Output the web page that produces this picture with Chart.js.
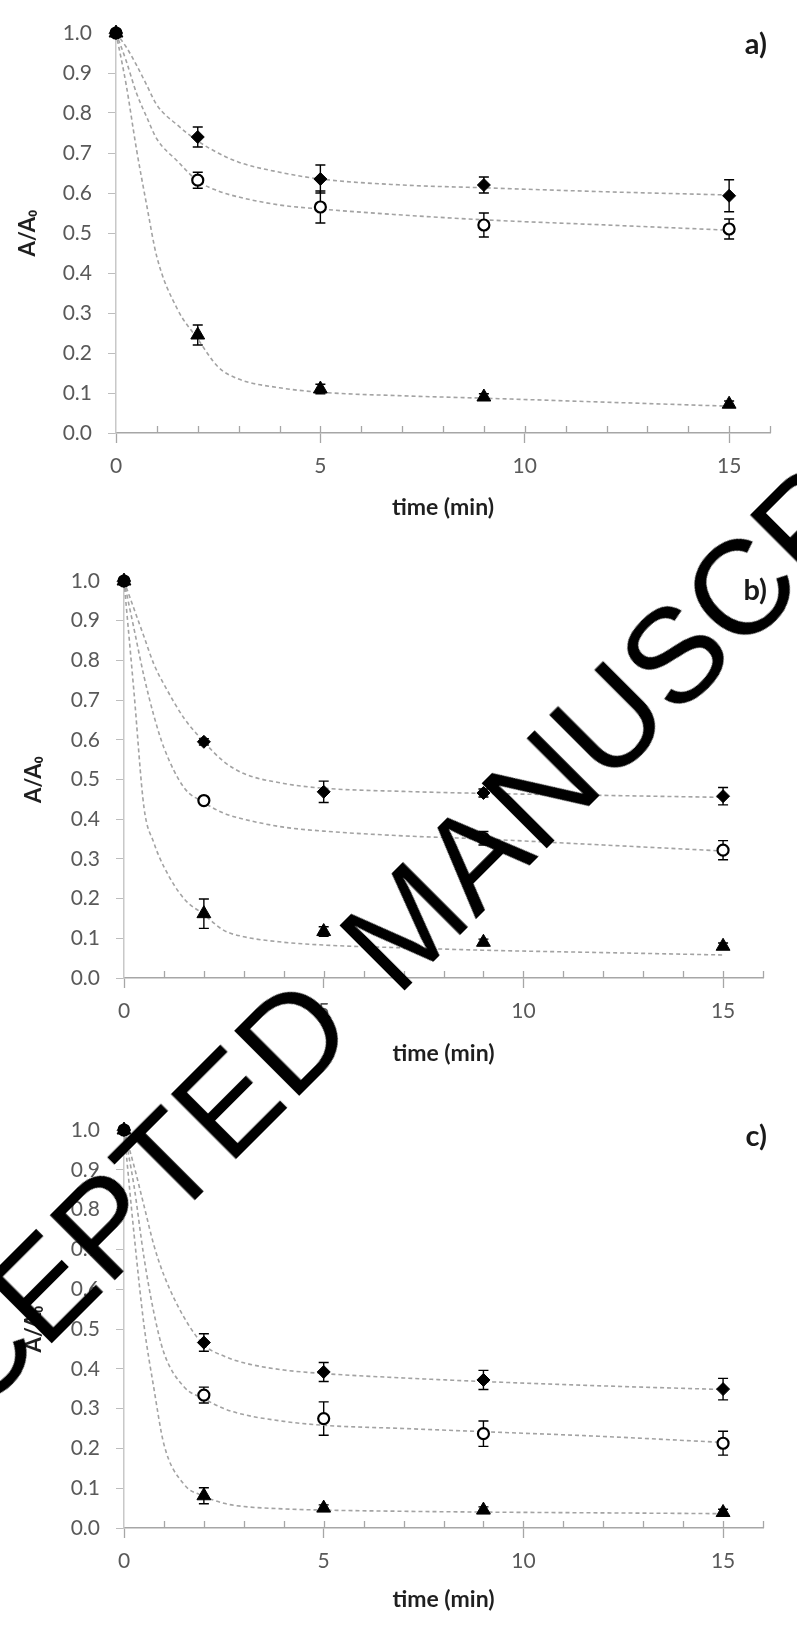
<!DOCTYPE html>
<html>
<head>
<meta charset="utf-8">
<script src="https://cdn.jsdelivr.net/npm/chart.js@4.4.1/dist/chart.umd.min.js"></script>
<style>
  html, body { margin: 0; padding: 0; background: #fff; }
  #page { position: relative; width: 797px; height: 1638px; overflow: hidden; }
  canvas { position: absolute; left: 0; }
  #stamp {
    position: absolute; left: 401px; top: 929px;
    transform: translate(-50%, -50%) rotate(-45deg);
    font-family: "Liberation Sans", Arial, sans-serif;
    font-size: 134px; line-height: 1; color: #000; word-spacing: 15px;
    white-space: nowrap; pointer-events: none;
  }
</style>
</head>
<body>
<div id="page">
  <canvas id="chartA" width="797" height="546" style="top:0"></canvas>
  <canvas id="chartB" width="797" height="546" style="top:546px"></canvas>
  <canvas id="chartC" width="797" height="546" style="top:1092px"></canvas>
  <div id="stamp">ACCEPTED MANUSCRIPT</div>
</div>
<script>
// sampling times (min)
const times = [0, 2, 5, 9, 15];
const fitTimes = [0, 0.25, 0.5, 0.75, 1, 1.5, 2, 2.5, 3, 4, 5, 7, 9, 12, 15];
const xTickLabels = [0, 5, 10, 15];

// panel a)
const diamondA = [1, 0.74, 0.635, 0.62, 0.593];
const diamondErrA = [0, 0.025, 0.035, 0.02, 0.04];
const circleA = [1, 0.632, 0.565, 0.52, 0.51];
const circleErrA = [0, 0.02, 0.04, 0.03, 0.025];
const triangleA = [1, 0.245, 0.11, 0.09, 0.072];
const triangleErrA = [0, 0.025, 0.012, 0.008, 0.008];
const fitDiamondA = [1, 0.965, 0.92, 0.87, 0.82, 0.77, 0.73, 0.7, 0.677, 0.652, 0.635, 0.62, 0.613, 0.603, 0.595];
const fitCircleA = [1, 0.93, 0.85, 0.79, 0.735, 0.68, 0.63, 0.605, 0.59, 0.57, 0.56, 0.545, 0.533, 0.52, 0.507];
const fitTriangleA = [1, 0.87, 0.71, 0.57, 0.44, 0.31, 0.235, 0.165, 0.135, 0.113, 0.102, 0.093, 0.087, 0.077, 0.067];

// panel b)
const diamondB = [1, 0.595, 0.469, 0.466, 0.458];
const diamondErrB = [0, 0.008, 0.027, 0.01, 0.022];
const circleB = [1, 0.447, null, 0.352, 0.322];
const circleErrB = [0, 0.008, 0, 0.017, 0.024];
const triangleB = [1, 0.162, 0.117, 0.09, 0.08];
const triangleErrB = [0, 0.037, 0.012, 0.008, 0.008];
const fitDiamondB = [1, 0.93, 0.86, 0.79, 0.74, 0.655, 0.595, 0.545, 0.515, 0.49, 0.478, 0.47, 0.465, 0.46, 0.455];
const fitCircleB = [1, 0.88, 0.76, 0.66, 0.58, 0.48, 0.442, 0.415, 0.4, 0.38, 0.37, 0.358, 0.35, 0.335, 0.32];
const fitTriangleB = [1, 0.72, 0.43, 0.34, 0.28, 0.2, 0.16, 0.12, 0.104, 0.09, 0.083, 0.076, 0.07, 0.064, 0.058];

// panel c)
const diamondC = [1, 0.466, 0.392, 0.372, 0.349];
const diamondErrC = [0, 0.022, 0.024, 0.024, 0.027];
const circleC = [1, 0.334, 0.275, 0.237, 0.213];
const circleErrC = [0, 0.02, 0.042, 0.032, 0.03];
const triangleC = [1, 0.081, 0.05, 0.045, 0.039];
const triangleErrC = [0, 0.02, 0.008, 0.008, 0.008];
const fitDiamondC = [1, 0.91, 0.81, 0.71, 0.635, 0.53, 0.46, 0.432, 0.415, 0.397, 0.388, 0.377, 0.368, 0.357, 0.348];
const fitCircleC = [1, 0.86, 0.68, 0.54, 0.44, 0.355, 0.325, 0.3, 0.285, 0.268, 0.258, 0.25, 0.242, 0.23, 0.215];
const fitTriangleC = [1, 0.74, 0.51, 0.35, 0.21, 0.11, 0.08, 0.062, 0.054, 0.048, 0.045, 0.042, 0.04, 0.038, 0.036];

Chart.defaults.font.family = "Lato, 'Open Sans', sans-serif";

const pts = (xs, ys) => xs.map((x, i) => ({ x: x, y: ys[i] }));

// vertical error bars with caps, drawn under the markers
const errorBars = {
  id: 'errorBars',
  beforeDatasetsDraw(chart) {
    const { ctx, scales: { x, y } } = chart;
    ctx.save();
    ctx.strokeStyle = '#000';
    ctx.lineWidth = 1.4;
    chart.data.datasets.forEach(ds => {
      if (!ds.errors) return;
      ds.data.forEach((p, i) => {
        const e = ds.errors[i];
        if (!e || p.y == null) return;
        const px = x.getPixelForValue(p.x);
        const top = y.getPixelForValue(p.y + e);
        const bot = y.getPixelForValue(p.y - e);
        ctx.beginPath();
        ctx.moveTo(px, top); ctx.lineTo(px, bot);
        ctx.moveTo(px - 5, top); ctx.lineTo(px + 5, top);
        ctx.moveTo(px - 5, bot); ctx.lineTo(px + 5, bot);
        ctx.stroke();
      });
    });
    ctx.restore();
  }
};

// minor tick marks on the inside of the x axis
const innerTicks = {
  id: 'innerTicks',
  beforeDatasetsDraw(chart) {
    const { ctx, chartArea } = chart;
    const xs = chart.scales.x;
    ctx.save();
    ctx.strokeStyle = '#a6a6a6';
    ctx.lineWidth = 1.3;
    xs.ticks.forEach(t => {
      if (t.value <= 0) return;
      const px = Math.round(xs.getPixelForValue(t.value)) + 0.5;
      ctx.beginPath();
      ctx.moveTo(px, chartArea.bottom);
      ctx.lineTo(px, chartArea.bottom - 7);
      ctx.stroke();
    });
    ctx.restore();
  }
};

const panelLabel = {
  id: 'panelLabel',
  afterDraw(chart, args, opts) {
    const ctx = chart.ctx;
    ctx.save();
    ctx.font = 'bold 29px Lato';
    ctx.fillStyle = '#1a1a1a';
    ctx.textAlign = 'right';
    ctx.textBaseline = 'middle';
    ctx.fillText(opts.text, 767, 45);
    ctx.restore();
  }
};

function curve(ys) {
  return {
    type: 'line', data: pts(fitTimes, ys), showLine: true,
    borderColor: '#a3a3a3', borderWidth: 1.6, borderDash: [4, 3],
    pointRadius: 0, cubicInterpolationMode: 'monotone', fill: false,
    order: 4, clip: false
  };
}

function markers(ys, errs, style, r, fill, bw, order) {
  return {
    data: pts(times, ys), errors: errs, showLine: false,
    pointStyle: style, pointRadius: r, pointBackgroundColor: fill,
    pointBorderColor: '#000', pointBorderWidth: bw, order: order, clip: false
  };
}

function panel(id, p) {
  new Chart(document.getElementById(id), {
    type: 'scatter',
    data: {
      datasets: [
        curve(p.fitD), curve(p.fitC), curve(p.fitT),
        markers(p.circle, p.circleErr, 'circle', 5.5, '#fff', 2.2, 3),
        markers(p.triangle, p.triangleErr, 'triangle', 8, '#000', 1, 2),
        markers(p.diamond, p.diamondErr, 'rectRot', 6.5, '#000', 1, 1)
      ]
    },
    options: {
      responsive: false,
      animation: false,
      layout: { padding: { top: p.top, right: 797 - p.right, left: 0, bottom: 0 } },
      plugins: {
        legend: { display: false },
        tooltip: { enabled: false },
        panelLabel: { text: p.label }
      },
      scales: {
        x: {
          type: 'linear', min: 0, max: 16,
          afterFit: s => { s.height = 546 - p.bottom; },
          border: { display: true, color: '#a6a6a6', width: 1.5 },
          grid: {
            drawOnChartArea: false, tickLength: 10, tickWidth: 1.3,
            tickColor: c => (c.tick && c.tick.value % 5 === 0) ? '#a6a6a6' : 'rgba(0,0,0,0)'
          },
          ticks: {
            stepSize: 1, autoSkip: false, maxRotation: 0, padding: 11,
            color: '#595959', font: { size: 21 },
            callback: v => xTickLabels.includes(v) ? String(v) : ''
          },
          title: {
            display: true, text: 'time (min)', color: '#1f1f1f',
            font: { size: 23, weight: 'bold' }, padding: { top: 0, bottom: 25 }
          }
        },
        y: {
          min: 0, max: 1,
          afterFit: s => { s.width = p.left; },
          border: { display: true, color: '#c8c8c8', width: 1.5 },
          grid: { drawOnChartArea: false, tickLength: 8, color: '#bdbdbd' },
          ticks: {
            stepSize: 0.1, padding: 16, color: '#595959', font: { size: 21 },
            callback: v => v.toFixed(1)
          },
          title: {
            display: true, text: 'A/A\u2080', color: '#1f1f1f',
            font: { size: 22, weight: 'bold' }, padding: { top: p.titleLeft, bottom: 0 }
          }
        }
      }
    },
    plugins: [errorBars, innerTicks, panelLabel]
  });
}

panel('chartA', {
  label: 'a)', left: 116, right: 770, top: 33, bottom: 433, titleLeft: 15,
  diamond: diamondA, diamondErr: diamondErrA, circle: circleA, circleErr: circleErrA,
  triangle: triangleA, triangleErr: triangleErrA,
  fitD: fitDiamondA, fitC: fitCircleA, fitT: fitTriangleA
});
panel('chartB', {
  label: 'b)', left: 124, right: 763, top: 35, bottom: 432, titleLeft: 21,
  diamond: diamondB, diamondErr: diamondErrB, circle: circleB, circleErr: circleErrB,
  triangle: triangleB, triangleErr: triangleErrB,
  fitD: fitDiamondB, fitC: fitCircleB, fitT: fitTriangleB
});
panel('chartC', {
  label: 'c)', left: 124, right: 763, top: 38, bottom: 436, titleLeft: 21,
  diamond: diamondC, diamondErr: diamondErrC, circle: circleC, circleErr: circleErrC,
  triangle: triangleC, triangleErr: triangleErrC,
  fitD: fitDiamondC, fitC: fitCircleC, fitT: fitTriangleC
});
</script>
</body>
</html>
